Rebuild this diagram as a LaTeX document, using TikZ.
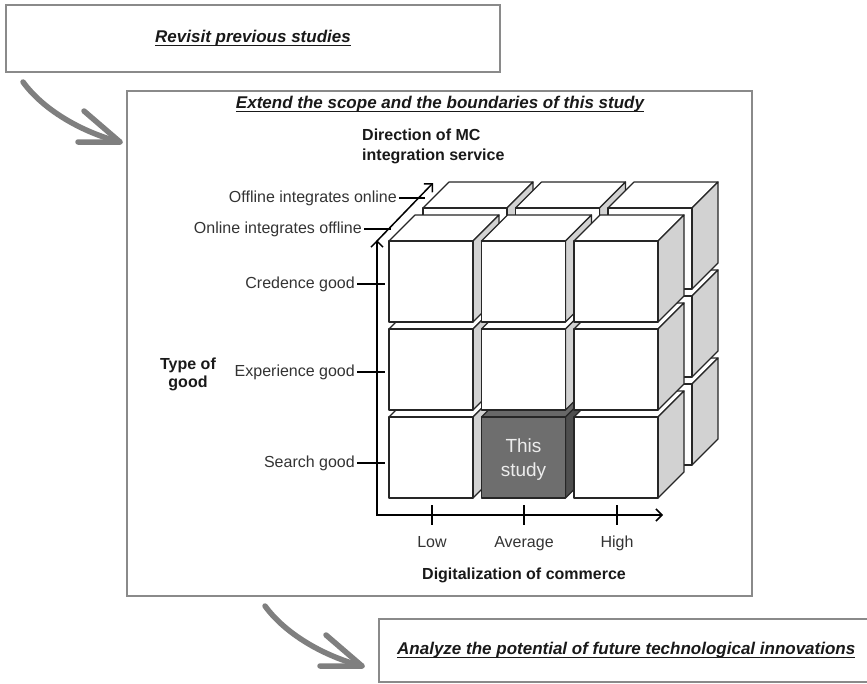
\documentclass[tikz,border=0pt]{standalone}
\usepackage{fontspec}
\setmainfont{Liberation Sans}
\usetikzlibrary{arrows.meta}

\definecolor{boxgray}{HTML}{8A8A8A}
\definecolor{arrowgray}{HTML}{7F7F7F}
\definecolor{edge}{HTML}{262626}
\definecolor{sidegray}{HTML}{D2D2D2}
\definecolor{darkfront}{HTML}{6E6E6E}
\definecolor{darktop}{HTML}{686868}
\definecolor{darkside}{HTML}{4E4E4E}
\definecolor{labeltext}{HTML}{333333}
\definecolor{studytext}{HTML}{EDEDED}

% underlined heading with a rule a fixed distance under the baseline
\newcommand\headline[1]{\setbox0=\hbox{#1}\rlap{\rule[-4pt]{\wd0}{1.3pt}}\box0}

% one cube: #1,#2 = front top-left corner, #3 front fill, #4 side fill, #5 top fill
\newcommand\drawcube[5]{%
  \filldraw[fill=#5,draw=edge,line width=1.2pt,line join=round]
    (#1,#2) -- ++(26,-26) -- ++(84,0) -- ++(-26,26) -- cycle;
  \filldraw[fill=#4,draw=edge,line width=1.2pt,line join=round]
    (#1+84,#2) -- ++(26,-26) -- ++(0,81) -- ++(-26,26) -- cycle;
  \filldraw[fill=#3,draw=edge,line width=1.2pt,line join=round]
    (#1,#2) rectangle ++(84,81);
}

\begin{document}
\begin{tikzpicture}[x=1pt,y=-1pt,
  framebox/.style={draw=boxgray,line width=2pt},
  heading/.style={font=\fontsize{17}{20}\selectfont\bfseries\itshape,text=black!90,inner sep=0pt},
  axislabel/.style={font=\fontsize{16}{19}\selectfont,text=labeltext,inner sep=0pt,text height=11.5pt,text depth=3.4pt},
  axistitle/.style={font=\fontsize{16}{19}\selectfont\bfseries,text=black!90,inner sep=0pt,text height=11.5pt,text depth=3.4pt},
  axisline/.style={line width=1.5pt},
  axtip/.tip={Straight Barb[length=6pt,width=12pt]},
  tickline/.style={line width=1.5pt},
  flowarrow/.style={draw=arrowgray,line width=5.5pt,line cap=round,line join=round},
  bigarrow/.pic={
    \draw[flowarrow] (0,0) .. controls (22,30) and (62,51) .. (97,60);
    \draw[flowarrow] (61,29) -- (97,60) -- (55,60);
  },
]
\useasboundingbox (0,0) rectangle (867,683);
\clip (0,0) rectangle (867,683);

% frames of the three stages
\draw[framebox] (6,5) rectangle (500,72);
\draw[framebox] (127,91) rectangle (752,596);
\draw[framebox] (379,619) rectangle (890,682);

\node[heading] (revisit) at (253,38) {\headline{Revisit previous studies}};
\node[heading] (scope) at (440,104) {\headline{Extend the scope and the boundaries of this study}};
\node[heading,anchor=west] (future) at (397,650) {\headline{Analyze the potential of future technological innovations}};

% curved arrows between the stages
\pic at (23,82) {bigarrow};
\pic at (265,606) {bigarrow};

% back layer of cubes
\foreach \r in {2,1,0}{
  \foreach \c in {0,1,2}{
    \drawcube{423+92.5*\c}{208+88*\r}{white}{sidegray}{white}
  }
}
% front layer, bottom row with the highlighted cube
\drawcube{389}{417}{white}{sidegray}{white}
\drawcube{481.5}{417}{darkfront}{darkside}{darktop}
\drawcube{574}{417}{white}{sidegray}{white}
% front layer, upper rows
\foreach \r in {1,0}{
  \foreach \c in {0,1,2}{
    \drawcube{389+92.5*\c}{241+88*\r}{white}{sidegray}{white}
  }
}
\node[font=\fontsize{19}{24}\selectfont,text=studytext,align=center] (study) at (523.5,460) {This\\study};

% axes
\coordinate (origin) at (377,515);
\coordinate (ytop) at (377,240);
\coordinate (xend) at (663,515);
\coordinate (zstart) at (377,241);
\coordinate (zend) at (433,183);
\draw[axisline,{axtip}-{axtip}] (ytop) -- (origin) -- (xend);
\draw[axisline,-{axtip}] (zstart) -- (zend);

% type of good
\node[axislabel,anchor=east] (credence) at (355,284) {Credence good};
\node[axislabel,anchor=east] (experience) at (355,372) {Experience good};
\node[axislabel,anchor=east] (search) at (355,463) {Search good};
\foreach \n in {credence,experience,search}{
  \draw[tickline] ([xshift=2pt]\n.east) -- ++(28,0);
}
\node[axistitle] (typeA) at (188,365) {Type of};
\node[axistitle] (typeB) at (188,383) {good};

% direction of integration
\node[axislabel,anchor=east] (onoff) at (362,229) {Online integrates offline};
\node[axislabel,anchor=east] (offon) at (397,198) {Offline integrates online};
\draw[tickline] ([xshift=2pt]onoff.east) -- ++(27,0);
\draw[tickline] ([xshift=2pt]offon.east) -- ++(26,0);
\node[axistitle,anchor=west] (dirA) at (362,136) {Direction of MC};
\node[axistitle,anchor=west] (dirB) at (362,156) {integration service};

% digitalization of commerce
\node[axislabel] (low) at (432,543) {Low};
\node[axislabel] (avg) at (524,543) {Average};
\node[axislabel] (high) at (617,543) {High};
\foreach \n in {low,avg,high}{
  \draw[tickline] (\n |- origin) ++(0,-10) -- ++(0,20);
}
\node[axistitle] (digital) at (524,575) {Digitalization of commerce};
\end{tikzpicture}
\end{document}
